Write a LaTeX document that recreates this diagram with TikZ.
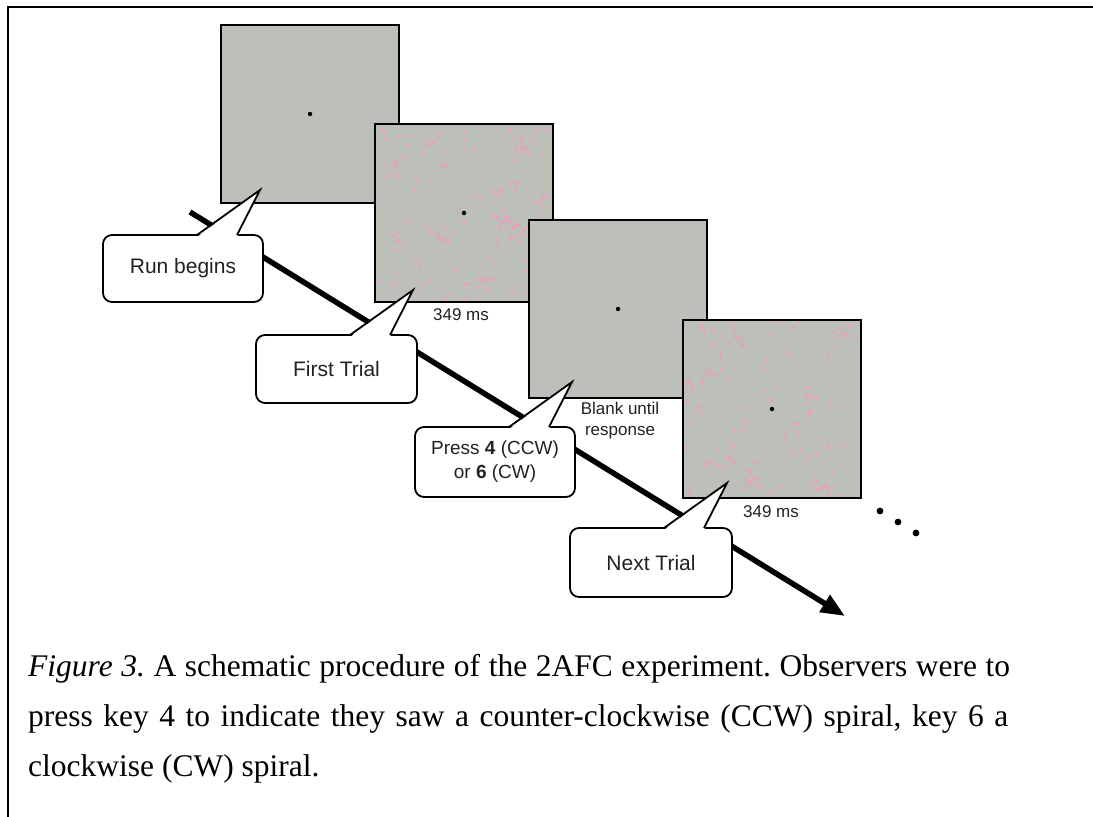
\documentclass[tikz,border=0pt]{standalone}
\usepackage{fontspec}
\setmainfont{Liberation Serif}
\newfontfamily\arialf{Liberation Sans}
\usetikzlibrary{arrows.meta,calc}
\frenchspacing
\definecolor{screengray}{RGB}{188,192,185}
\definecolor{dotpink}{RGB}{243,155,188}
\definecolor{txtgray}{RGB}{34,34,34}
\newcommand\bubtail[1]{%
  \fill[white] ([shift={(94,2)}]#1.north west) -- ([shift={(157,-45)}]#1.north west) -- ([shift={(134,2)}]#1.north west) -- cycle;
  \draw[tailline] ([shift={(94,0)}]#1.north west) -- ([shift={(157,-45)}]#1.north west) -- ([shift={(134,0)}]#1.north west);}
\newcommand\pinkdots[1]{%
  \begin{scope}
  \clip ([shift={(1.4,1.4)}]#1.north west) rectangle ([shift={(-1.4,-1.4)}]#1.south east);
  \foreach \k in {1,...,60} {
    \pgfmathsetmacro\cx{rnd*176}
    \pgfmathsetmacro\cy{rnd*176}
    \foreach \j in {1,...,3} {
      \pgfmathsetmacro\dx{\cx+rand*8}
      \pgfmathsetmacro\dy{\cy+rand*8}
      \pgfmathsetmacro\op{0.55+0.45*rnd}
      \fill[dotpink, opacity=\op] ($(#1.north west)+(\dx,\dy)$) circle (1.9pt);
    }
  }
  \end{scope}}
\begin{document}
\begin{tikzpicture}[x=1pt,y=-1pt,
 screen/.style={draw=black, line width=2.6pt, fill=screengray, minimum size=178pt, inner sep=0pt, outer sep=0pt, anchor=north west},
 bubblebox/.style={draw=black, line width=1.8pt, fill=white, rounded corners=9pt, inner sep=0pt, outer sep=0pt, text=txtgray, font=\arialf\fontsize{21}{25}\selectfont, align=center},
 lbl/.style={font=\arialf\fontsize{17}{21}\selectfont, text=txtgray, align=center, inner sep=0pt},
 captext/.style={font=\fontsize{31.5}{34}\selectfont, anchor=base west, inner sep=0pt},
 tailline/.style={draw=black, line width=1.8pt},
 fix/.style={circle, fill=black, inner sep=0pt, minimum size=4.5pt}
]
\useasboundingbox (0,0) rectangle (1093,817);
\fill[white] (0,0) rectangle (1093,817);
% frame
\draw[line width=2pt] (8,817) -- (8,7) -- (1093,7);
% time arrow
\coordinate (a0) at (190,212);
\coordinate (a1) at (845,616);
\draw[line width=5.5pt, -{Triangle[length=24pt,width=19pt]}] (a0) -- (a1);
% screens
\node[screen] (s1) at (221,25) {};
\node[fix] at (s1.center) {};
\pgfmathsetseed{7}
\node[screen] (s2) at (375,124) {};
\pinkdots{s2}
\node[fix] at (s2.center) {};
\node[screen] (s3) at (529,220) {};
\node[fix] at (s3.center) {};
\node[screen] (s4) at (683,320) {};
\pgfmathsetseed{23}
\pinkdots{s4}
\node[fix] at (s4.center) {};
% labels
\node[lbl] (l2) at (461,315) {349 ms};
\node[lbl] (l3) at (620,421) {Blank until\\response};
\node[lbl] (l4) at (771,512) {349 ms};
% continuation dots
\fill (880,511) circle (3.4pt);
\fill (898,522) circle (3.4pt);
\fill (916,533) circle (3.4pt);
% bubbles
\node[bubblebox, minimum width=160pt, minimum height=67pt] (b1) at (183,268.5) {Run begins};
\bubtail{b1}
\node[bubblebox, minimum width=161pt, minimum height=68pt] (b2) at (336.5,369) {First Trial};
\bubtail{b2}
\node[bubblebox, minimum width=160pt, minimum height=70pt, font=\arialf\fontsize{19}{24}\selectfont] (b3) at (495,462) {Press \textbf{4} (CCW)\\or \textbf{6} (CW)};
\bubtail{b3}
\node[bubblebox, minimum width=162pt, minimum height=69pt] (b4) at (651,562.5) {Next Trial};
\bubtail{b4}
% caption
\node[captext] (c1) at (28,676) {\makebox[982pt][s]{\textit{Figure 3.} A schematic procedure of the 2AFC experiment. Observers were to}};
\node[captext] (c2) at (28,726) {\makebox[980pt][s]{press key 4 to indicate they saw a counter-clockwise (CCW) spiral, key 6 a}};
\node[captext] (c3) at (28,776) {clockwise (CW) spiral.};
\end{tikzpicture}
\end{document}
